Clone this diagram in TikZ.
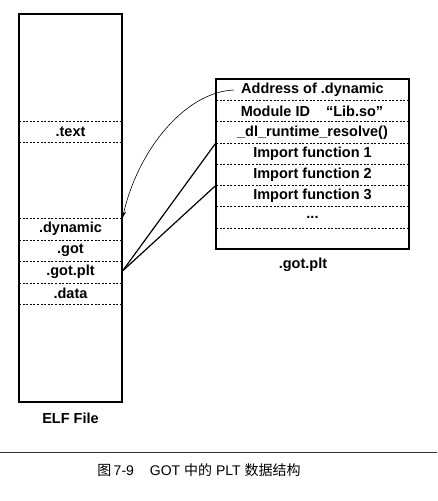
\documentclass[tikz,border=0pt]{standalone}
\usepackage{fontspec}
\setmainfont{Liberation Sans}
\newfontfamily\cjk{Noto Sans CJK SC}
\usetikzlibrary{arrows.meta}
\tikzset{
    lbl/.style={font=\bfseries\fontsize{14.5}{16}\selectfont, inner sep=2pt},
    sep/.style={dash pattern=on 2pt off 1.6pt, line width=0.5pt},
    frame/.style={line width=1.1pt},
    link/.style={line width=1.2pt},
}
\begin{document}
\begin{tikzpicture}[x=1pt,y=-1pt]
    \useasboundingbox (0,0) rectangle (437,501);

    % draw the ELF file
    \draw[frame] (19,14) rectangle (122,402);
    \draw[sep] (19,121) -- (122,121);
    \draw[sep] (19,142) -- (122,142);
    \draw[sep] (19,218) -- (122,218);
    \draw[sep] (19,240) -- (122,240);
    \draw[sep] (19,261) -- (122,261);
    \draw[sep] (19,283) -- (122,283);
    \draw[sep] (19,304) -- (122,304);

    % draw the .got.plt table
    \draw[frame] (216,79) rectangle (409,249);
    \draw[sep] (216,100.25) -- (409,100.25);
    \draw[sep] (216,121.5) -- (409,121.5);
    \draw[sep] (216,142.75) -- (409,142.75);
    \draw[sep] (216,164) -- (409,164);
    \draw[sep] (216,185.25) -- (409,185.25);
    \draw[sep] (216,206.5) -- (409,206.5);
    \draw[sep] (216,227.75) -- (409,227.75);

    % the sections of the ELF file
    \node[lbl] (text) at (70.5,131.5) {.text};
    \node[lbl] (dyn) at (70.5,229) {.dynamic};
    \node[lbl] (got) at (70.5,250.5) {.got};
    \node[lbl] (gotplt) at (70.5,272) {.got.plt};
    \node[lbl] (data) at (70.5,293.5) {.data};
    \node[lbl] (elf) at (70.5,418) {ELF File};

    % the entries of the table
    \node[lbl] (addr) at (312.5,90) {Address of .dynamic};
    \node[lbl] (modid) at (312,111.2) {Module ID\hspace{16pt}“Lib.so”};
    \node[lbl] (resolve) at (312.5,132.4) {\_dl\_runtime\_resolve()};
    \node[lbl] (imp1) at (312.5,153.7) {Import function 1};
    \node[lbl] (imp2) at (312.5,174.9) {Import function 2};
    \node[lbl] (imp3) at (312.5,196.2) {Import function 3};
    \node[lbl] (dots) at (312.5,217.5) {...};
    \node[lbl] (table) at (303,265) {.got.plt};

    % the points where the connectors meet the boxes
    \coordinate (dynr) at (122.5,218);
    \coordinate (gotr) at (122.5,271);
    \coordinate (imp1l) at (216,142.75);
    \coordinate (imp3l) at (216,185.25);

    % draw the arrows
    \draw[-{Stealth[length=7pt,width=4.5pt]}, line width=0.6pt] ([xshift=-5pt]addr.west) .. controls (185,92) and (138,150) .. (dynr);
    \draw[link] (gotr) -- (imp1l);
    \draw[link] (gotr) -- (imp3l);

    % the caption
    \draw[line width=1pt, black!80] (0,452.7) -- (437,452.7);
    \node[font=\fontsize{14}{16}\selectfont] (caption) at (199,470)
        {{\cjk 图}\,7-9\hspace{16pt}GOT {\cjk 中的} PLT {\cjk 数据结构}};
\end{tikzpicture}
\end{document}
